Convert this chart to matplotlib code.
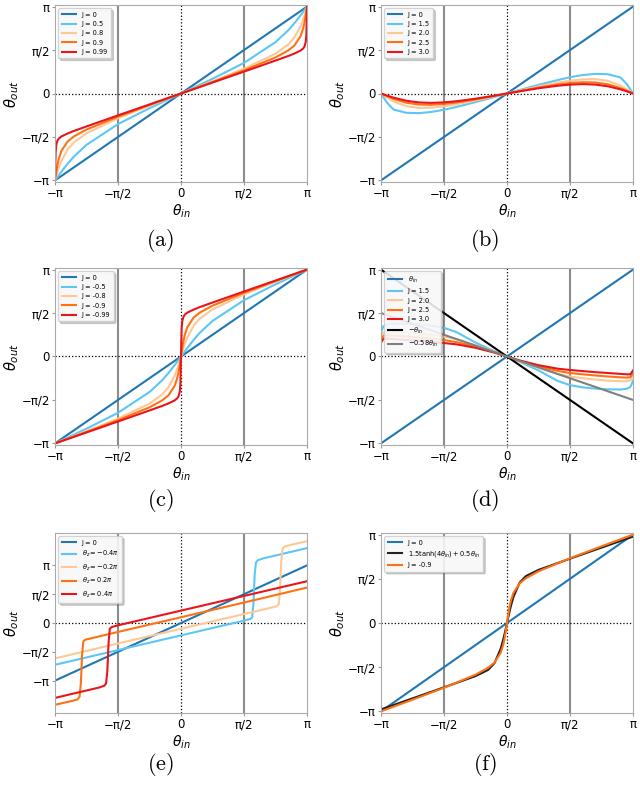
import numpy as np
import matplotlib
matplotlib.use("Agg")
import matplotlib.pyplot as plt

# x positions are in units of pi, y values too

# (a) J > 0, small
A_X = [-1, -0.995, -0.99, -0.98, -0.97, -0.95, -0.9, -0.85, -0.75, -0.5, -0.25, -0.1, 0,
       0.1, 0.25, 0.5, 0.75, 0.85, 0.9, 0.95, 0.97, 0.98, 0.99, 0.995, 1]
A_J05 = [-1, -0.99, -0.98, -0.96, -0.94, -0.901, -0.809, -0.726, -0.591, -0.352, -0.169, -0.067, 0,
         0.067, 0.169, 0.352, 0.591, 0.726, 0.809, 0.901, 0.94, 0.96, 0.98, 0.99, 1]
A_J08 = [-1, -0.975, -0.95, -0.902, -0.857, -0.779, -0.645, -0.563, -0.458, -0.285, -0.14, -0.056, 0,
         0.056, 0.14, 0.285, 0.458, 0.563, 0.645, 0.779, 0.857, 0.902, 0.95, 0.975, 1]
A_J09 = [-1, -0.95, -0.903, -0.819, -0.752, -0.663, -0.552, -0.494, -0.415, -0.267, -0.132, -0.053, 0,
         0.053, 0.132, 0.267, 0.415, 0.494, 0.552, 0.663, 0.752, 0.819, 0.903, 0.95, 1]
A_J099 = [-1, -0.679, -0.594, -0.54, -0.519, -0.495, -0.46, -0.431, -0.379, -0.252, -0.126, -0.05, 0,
          0.05, 0.126, 0.252, 0.379, 0.431, 0.46, 0.495, 0.519, 0.54, 0.594, 0.679, 1]

# (b) J > 1
B_X = [-1, -0.95, -0.9, -0.8, -0.7, -0.6, -0.5, -0.4, -0.25, -0.1, 0,
       0.1, 0.25, 0.4, 0.5, 0.6, 0.7, 0.8, 0.9, 0.95, 1]
B_J15 = [0, -0.11, -0.185, -0.222, -0.226, -0.212, -0.187, -0.154, -0.099, -0.04, 0,
         0.04, 0.099, 0.154, 0.187, 0.212, 0.226, 0.222, 0.185, 0.11, 0]
B_J20 = [0, -0.049, -0.091, -0.146, -0.166, -0.163, -0.148, -0.124, -0.081, -0.033, 0,
         0.033, 0.081, 0.124, 0.148, 0.163, 0.166, 0.146, 0.091, 0.049, 0]
B_J25 = [0, -0.033, -0.063, -0.106, -0.127, -0.13, -0.121, -0.104, -0.069, -0.028, 0,
         0.028, 0.069, 0.104, 0.121, 0.13, 0.127, 0.106, 0.063, 0.033, 0]
B_J30 = [0, -0.025, -0.048, -0.083, -0.103, -0.108, -0.102, -0.089, -0.06, -0.025, 0,
         0.025, 0.06, 0.089, 0.102, 0.108, 0.103, 0.083, 0.048, 0.025, 0]

# (c) J < 0
C_X = [-1, -0.9, -0.75, -0.5, -0.25, -0.15, -0.1, -0.05, -0.03, -0.02, -0.01, -0.005, 0,
       0.005, 0.01, 0.02, 0.03, 0.05, 0.1, 0.15, 0.25, 0.5, 0.75, 0.9, 1]
C_J05 = [-1, -0.933, -0.831, -0.648, -0.409, -0.274, -0.191, -0.099, -0.06, -0.04, -0.02, -0.01, 0,
         0.01, 0.02, 0.04, 0.06, 0.099, 0.191, 0.274, 0.409, 0.648, 0.831, 0.933, 1]
C_J08 = [-1, -0.944, -0.86, -0.715, -0.542, -0.437, -0.355, -0.221, -0.143, -0.098, -0.05, -0.025, 0,
         0.025, 0.05, 0.098, 0.143, 0.221, 0.355, 0.437, 0.542, 0.715, 0.86, 0.944, 1]
C_J09 = [-1, -0.947, -0.868, -0.733, -0.585, -0.506, -0.448, -0.337, -0.248, -0.181, -0.097, -0.05, 0,
         0.05, 0.097, 0.181, 0.248, 0.337, 0.448, 0.506, 0.585, 0.733, 0.868, 0.947, 1]
C_J099 = [-1, -0.95, -0.874, -0.748, -0.621, -0.569, -0.54, -0.505, -0.481, -0.46, -0.406, -0.321, 0,
          0.321, 0.406, 0.46, 0.481, 0.505, 0.54, 0.569, 0.621, 0.748, 0.874, 0.95, 1]

# (d) J > 1, other case
D_X = [-1, -0.98, -0.95, -0.9, -0.8, -0.7, -0.6, -0.5, -0.4, -0.25, -0.1, 0,
       0.1, 0.25, 0.4, 0.5, 0.6, 0.7, 0.8, 0.9, 0.95, 0.98, 1]
D_J15 = [0.28, 0.35, 0.372, 0.38, 0.378, 0.37, 0.355, 0.33, 0.28, 0.16, 0.06, 0,
         -0.06, -0.16, -0.28, -0.33, -0.355, -0.37, -0.378, -0.38, -0.372, -0.35, -0.28]
D_J20 = [0.22, 0.275, 0.285, 0.285, 0.278, 0.265, 0.25, 0.23, 0.2, 0.13, 0.055, 0,
         -0.055, -0.13, -0.2, -0.23, -0.25, -0.265, -0.278, -0.285, -0.285, -0.275, -0.22]
D_J25 = [0.19, 0.238, 0.243, 0.24, 0.23, 0.218, 0.205, 0.19, 0.165, 0.115, 0.05, 0,
         -0.05, -0.115, -0.165, -0.19, -0.205, -0.218, -0.23, -0.24, -0.243, -0.238, -0.19]
D_J30 = [0.16, 0.205, 0.205, 0.2, 0.19, 0.18, 0.168, 0.155, 0.14, 0.1, 0.045, 0,
         -0.045, -0.1, -0.14, -0.155, -0.168, -0.18, -0.19, -0.2, -0.205, -0.205, -0.16]
LINE_X = [-1, 1]
IDENT_Y = [-1, 1]
NEG_Y = [1, -1]
HALF_NEG_Y = [0.5, -0.5]

# (e) shifted curves
E_Z04N_X = [-1, -0.5, 0, 0.5, 0.55, 0.565, 0.575, 0.585, 0.595, 0.61, 0.65, 1]
E_Z04N_Y = [-0.725, -0.47, -0.215, 0.04, 0.07, 0.1, 0.35, 0.85, 1.05, 1.09, 1.12, 1.3]
E_Z02N_X = [-1, -0.5, 0, 0.5, 0.76, 0.775, 0.785, 0.795, 0.805, 0.82, 0.86, 1]
E_Z02N_Y = [-0.615, -0.355, -0.1, 0.155, 0.29, 0.32, 0.55, 1.05, 1.28, 1.325, 1.35, 1.42]
E_Z02P_X = [-1, -0.86, -0.82, -0.805, -0.795, -0.785, -0.775, -0.76, -0.5, 0, 0.5, 1]
E_Z02P_Y = [-1.42, -1.35, -1.325, -1.28, -1.05, -0.55, -0.32, -0.29, -0.155, 0.1, 0.355, 0.615]
E_Z04P_X = [-1, -0.65, -0.61, -0.595, -0.585, -0.575, -0.565, -0.55, -0.5, 0, 0.5, 1]
E_Z04P_Y = [-1.3, -1.12, -1.09, -1.05, -0.85, -0.35, -0.1, -0.07, -0.04, 0.215, 0.47, 0.725]

# (f) tanh fit vs J = -0.9
F_TANH = [-0.978, -0.928, -0.853, -0.728, -0.601, -0.531, -0.456, -0.291, -0.187, -0.128, -0.065, -0.033, 0,
          0.033, 0.065, 0.128, 0.187, 0.291, 0.456, 0.531, 0.601, 0.728, 0.853, 0.928, 0.978]

BLUE = "#1f77b4"
LBLUE = "#5cc6f5"
PEACH = "#fdc896"
ORANGE = "#ff7214"
RED = "#e8161b"
PI = np.pi

fig = plt.figure(figsize=(6.4, 7.85), dpi=100)


def make_axes(l, t, r, b):
    return fig.add_axes([l / 640, 1 - b / 785, (r - l) / 640, (b - t) / 785])


def style(ax, ylim=True):
    ax.axvline(-PI / 2, color="#8c8c8c", lw=1.5, zorder=0)
    ax.axvline(PI / 2, color="#8c8c8c", lw=1.5, zorder=0)
    ax.axvline(0, color="k", ls=":", lw=0.9, zorder=0)
    ax.axhline(0, color="k", ls=":", lw=0.9, zorder=0)
    ax.set_xlim(-PI, PI)
    if ylim:
        ax.set_ylim(-3.2, 3.2)
    ticks = [-PI, -PI / 2, 0, PI / 2, PI]
    labels = ["\u2212\u03c0", "\u2212\u03c0/2", "0", "\u03c0/2", "\u03c0"]
    ax.set_xticks(ticks)
    ax.set_xticklabels(labels)
    ax.set_yticks(ticks)
    ax.set_yticklabels(labels)
    ax.tick_params(labelsize=8.5, length=2.5, pad=1.2, color="#999999")
    for s in ax.spines.values():
        s.set_color("#aaaaaa")
    ax.set_xlabel(r"$\theta_{in}$", fontsize=10, labelpad=1.5)
    ax.set_ylabel(r"$\theta_{out}$", fontsize=10.5, labelpad=0.5)
    ax.legend(loc="upper left", fontsize=4.8, framealpha=0.85,
              shadow={"alpha": 0.25, "ox": 1.5, "oy": -1.5},
              handlelength=2.2, borderpad=0.5)


def P(vals):
    return np.array(vals) * PI


# (a)
ax = make_axes(55, 5, 307, 182)
ax.plot(P(LINE_X), P(IDENT_Y), color=BLUE, label="J = 0")
ax.plot(P(A_X), P(A_J05), color=LBLUE, label="J = 0.5")
ax.plot(P(A_X), P(A_J08), color=PEACH, label="J = 0.8")
ax.plot(P(A_X), P(A_J09), color=ORANGE, label="J = 0.9")
ax.plot(P(A_X), P(A_J099), color=RED, label="J = 0.99")
style(ax)

# (b)
ax = make_axes(381, 5, 633, 182)
ax.plot(P(LINE_X), P(IDENT_Y), color=BLUE, label="J = 0")
ax.plot(P(B_X), P(B_J15), color=LBLUE, label="J = 1.5")
ax.plot(P(B_X), P(B_J20), color=PEACH, label="J = 2.0")
ax.plot(P(B_X), P(B_J25), color=ORANGE, label="J = 2.5")
ax.plot(P(B_X), P(B_J30), color=RED, label="J = 3.0")
style(ax)

# (c)
ax = make_axes(55, 268, 307, 445)
ax.plot(P(LINE_X), P(IDENT_Y), color=BLUE, label="J = 0")
ax.plot(P(C_X), P(C_J05), color=LBLUE, label="J = -0.5")
ax.plot(P(C_X), P(C_J08), color=PEACH, label="J = -0.8")
ax.plot(P(C_X), P(C_J09), color=ORANGE, label="J = -0.9")
ax.plot(P(C_X), P(C_J099), color=RED, label="J = -0.99")
style(ax)

# (d)
ax = make_axes(381, 268, 633, 445)
ax.plot(P(LINE_X), P(IDENT_Y), color=BLUE, label=r"$\theta_{in}$")
ax.plot(P(D_X), P(D_J15), color=LBLUE, label="J = 1.5")
ax.plot(P(D_X), P(D_J20), color=PEACH, label="J = 2.0")
ax.plot(P(D_X), P(D_J25), color=ORANGE, label="J = 2.5")
ax.plot(P(D_X), P(D_J30), color=RED, label="J = 3.0")
ax.plot(P(LINE_X), P(NEG_Y), color="k", label=r"$-\theta_{in}$")
ax.plot(P(LINE_X), P(HALF_NEG_Y), color="#808080", label=r"$-0.58\theta_{in}$")
style(ax)

# (e)
ax = make_axes(55, 533, 307, 713)
ax.plot(P(LINE_X), P(IDENT_Y), color=BLUE, label="J = 0")
ax.plot(P(E_Z04N_X), P(E_Z04N_Y), color=LBLUE, label=r"$\theta_z = -0.4\pi$")
ax.plot(P(E_Z02N_X), P(E_Z02N_Y), color=PEACH, label=r"$\theta_z = -0.2\pi$")
ax.plot(P(E_Z02P_X), P(E_Z02P_Y), color=ORANGE, label=r"$\theta_z = 0.2\pi$")
ax.plot(P(E_Z04P_X), P(E_Z04P_Y), color=RED, label=r"$\theta_z = 0.4\pi$")
style(ax, ylim=False)

# (f)
ax = make_axes(381, 533, 633, 713)
ax.plot(P(LINE_X), P(IDENT_Y), color=BLUE, label="J = 0")
ax.plot(P(C_X), P(F_TANH), color="#222222", label=r"$1.5\tanh(4\theta_{in})+0.5\theta_{in}$")
ax.plot(P(C_X), P(C_J09), color=ORANGE, label="J = -0.9")
style(ax)

for x, y, s in [(0.25, 241, "a"), (0.757, 241, "b"), (0.25, 500, "c"),
                (0.757, 500, "d"), (0.25, 765, "e"), (0.757, 765, "f")]:
    fig.text(x, 1 - y / 785, r"$\mathrm{(%s)}$" % s, fontsize=16,
             ha="center", va="center", math_fontfamily="cm")

fig.savefig("out.png", dpi=100)
